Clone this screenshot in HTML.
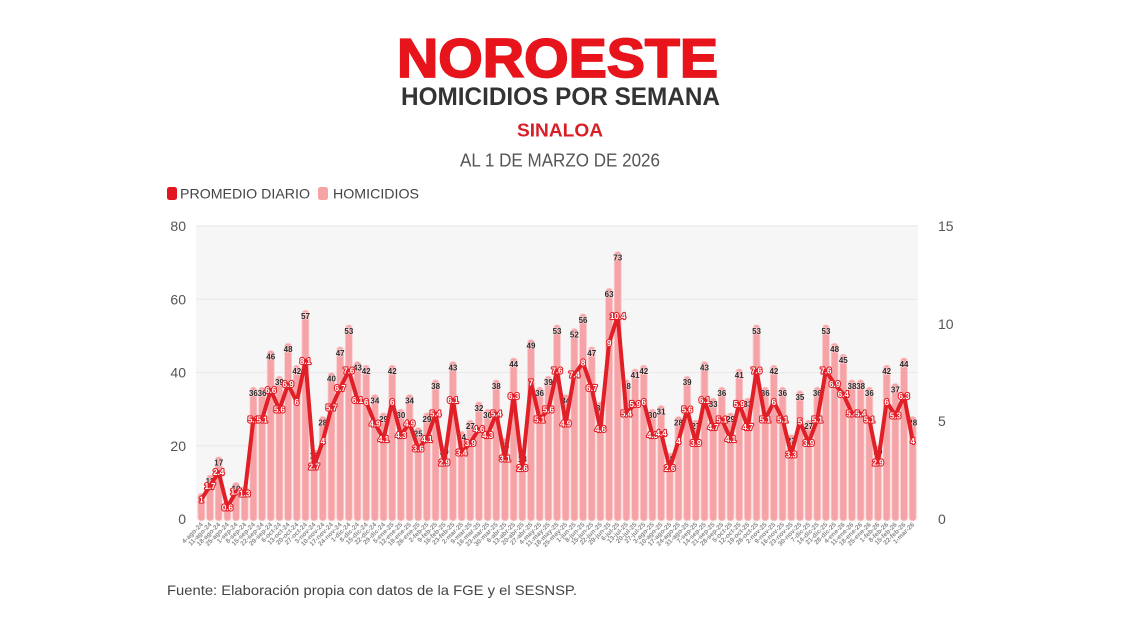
<!DOCTYPE html>
<html><head><meta charset="utf-8"><style>
html,body{margin:0;padding:0;background:#fff;}
svg{display:block;font-family:"Liberation Sans",sans-serif;}
.bars rect{vector-effect:non-scaling-stroke;}
.bl text{font-size:8px;font-weight:bold;fill:#2b2b2b;text-anchor:middle;stroke:rgba(255,255,255,0.5);stroke-width:1.3px;paint-order:stroke;}
.al text{font-size:8px;font-weight:bold;fill:#fff;text-anchor:middle;stroke:#e3222b;stroke-width:2.2px;paint-order:stroke;stroke-linejoin:round;}
.xl text{font-size:6.5px;fill:#8c8c8c;text-anchor:end;font-weight:bold;}
</style></head><body>
<svg width="1122" height="630" viewBox="0 0 1122 630" xmlns="http://www.w3.org/2000/svg">
<rect width="1122" height="630" fill="#fff"/>
<!-- header -->
<text x="397" y="77" font-size="55" font-weight="bold" fill="#e8141c" stroke="#e8141c" stroke-width="1.8" textLength="321" lengthAdjust="spacingAndGlyphs">NOROESTE</text>
<text x="401" y="105" font-size="25" font-weight="bold" fill="#333" textLength="319" lengthAdjust="spacingAndGlyphs">HOMICIDIOS POR SEMANA</text>
<text x="517" y="136.5" font-size="18.5" font-weight="bold" fill="#d91f26" textLength="86" lengthAdjust="spacingAndGlyphs">SINALOA</text>
<text x="460" y="166.5" font-size="18" fill="#555" textLength="200" lengthAdjust="spacingAndGlyphs">AL 1 DE MARZO DE 2026</text>
<!-- legend -->
<rect x="167" y="187" width="10" height="13" rx="2.5" fill="#e3151d"/>
<text x="180" y="198.5" font-size="14" fill="#444" textLength="130" lengthAdjust="spacingAndGlyphs">PROMEDIO DIARIO</text>
<rect x="318" y="187" width="10" height="13" rx="2.5" fill="#f5a3a5"/>
<text x="333" y="198.5" font-size="14" fill="#444" textLength="86" lengthAdjust="spacingAndGlyphs">HOMICIDIOS</text>
<!-- plot bg -->
<rect x="196" y="225" width="722" height="295" fill="#f6f6f6"/>
<g stroke="#e9e9e9" stroke-width="1">
<line x1="196" y1="226" x2="918" y2="226"/>
<line x1="196" y1="299.2" x2="918" y2="299.2"/>
<line x1="196" y1="372.5" x2="918" y2="372.5"/>
<line x1="196" y1="445.7" x2="918" y2="445.7"/>
</g>
<!-- axes labels -->
<g font-size="14" fill="#555" text-anchor="end">
<text x="186" y="231">80</text>
<text x="186" y="304.5">60</text>
<text x="186" y="377.5">40</text>
<text x="186" y="451">20</text>
<text x="186" y="524">0</text>
</g>
<g font-size="14" fill="#555" text-anchor="start">
<text x="938" y="231">15</text>
<text x="938" y="329">10</text>
<text x="938" y="426">5</text>
<text x="938" y="524">0</text>
</g>
<!-- bars -->
<g class="bars" transform="translate(197,519) scale(8.675,-3.6625)" fill="#f5a3a6" stroke="#fbcdce" stroke-width="0.8">
<rect x="0.1" y="-0.5" width="0.8" height="7.5" rx="0.35" ry="0.9"/>
<rect x="1.1" y="-0.5" width="0.8" height="12.5" rx="0.35" ry="0.9"/>
<rect x="2.1" y="-0.5" width="0.8" height="17.5" rx="0.35" ry="0.9"/>
<rect x="3.1" y="-0.5" width="0.8" height="4.5" rx="0.35" ry="0.9"/>
<rect x="4.1" y="-0.5" width="0.8" height="10.5" rx="0.35" ry="0.9"/>
<rect x="5.1" y="-0.5" width="0.8" height="9.5" rx="0.35" ry="0.9"/>
<rect x="6.1" y="-0.5" width="0.8" height="36.5" rx="0.35" ry="0.9"/>
<rect x="7.1" y="-0.5" width="0.8" height="36.5" rx="0.35" ry="0.9"/>
<rect x="8.1" y="-0.5" width="0.8" height="46.5" rx="0.35" ry="0.9"/>
<rect x="9.1" y="-0.5" width="0.8" height="39.5" rx="0.35" ry="0.9"/>
<rect x="10.1" y="-0.5" width="0.8" height="48.5" rx="0.35" ry="0.9"/>
<rect x="11.1" y="-0.5" width="0.8" height="42.5" rx="0.35" ry="0.9"/>
<rect x="12.1" y="-0.5" width="0.8" height="57.5" rx="0.35" ry="0.9"/>
<rect x="13.1" y="-0.5" width="0.8" height="19.5" rx="0.35" ry="0.9"/>
<rect x="14.1" y="-0.5" width="0.8" height="28.5" rx="0.35" ry="0.9"/>
<rect x="15.1" y="-0.5" width="0.8" height="40.5" rx="0.35" ry="0.9"/>
<rect x="16.1" y="-0.5" width="0.8" height="47.5" rx="0.35" ry="0.9"/>
<rect x="17.1" y="-0.5" width="0.8" height="53.5" rx="0.35" ry="0.9"/>
<rect x="18.1" y="-0.5" width="0.8" height="43.5" rx="0.35" ry="0.9"/>
<rect x="19.1" y="-0.5" width="0.8" height="42.5" rx="0.35" ry="0.9"/>
<rect x="20.1" y="-0.5" width="0.8" height="34.5" rx="0.35" ry="0.9"/>
<rect x="21.1" y="-0.5" width="0.8" height="29.5" rx="0.35" ry="0.9"/>
<rect x="22.1" y="-0.5" width="0.8" height="42.5" rx="0.35" ry="0.9"/>
<rect x="23.1" y="-0.5" width="0.8" height="30.5" rx="0.35" ry="0.9"/>
<rect x="24.1" y="-0.5" width="0.8" height="34.5" rx="0.35" ry="0.9"/>
<rect x="25.1" y="-0.5" width="0.8" height="25.5" rx="0.35" ry="0.9"/>
<rect x="26.1" y="-0.5" width="0.8" height="29.5" rx="0.35" ry="0.9"/>
<rect x="27.1" y="-0.5" width="0.8" height="38.5" rx="0.35" ry="0.9"/>
<rect x="28.1" y="-0.5" width="0.8" height="20.5" rx="0.35" ry="0.9"/>
<rect x="29.1" y="-0.5" width="0.8" height="43.5" rx="0.35" ry="0.9"/>
<rect x="30.1" y="-0.5" width="0.8" height="24.5" rx="0.35" ry="0.9"/>
<rect x="31.1" y="-0.5" width="0.8" height="27.5" rx="0.35" ry="0.9"/>
<rect x="32.1" y="-0.5" width="0.8" height="32.5" rx="0.35" ry="0.9"/>
<rect x="33.1" y="-0.5" width="0.8" height="30.5" rx="0.35" ry="0.9"/>
<rect x="34.1" y="-0.5" width="0.8" height="38.5" rx="0.35" ry="0.9"/>
<rect x="35.1" y="-0.5" width="0.8" height="22.5" rx="0.35" ry="0.9"/>
<rect x="36.1" y="-0.5" width="0.8" height="44.5" rx="0.35" ry="0.9"/>
<rect x="37.1" y="-0.5" width="0.8" height="18.5" rx="0.35" ry="0.9"/>
<rect x="38.1" y="-0.5" width="0.8" height="49.5" rx="0.35" ry="0.9"/>
<rect x="39.1" y="-0.5" width="0.8" height="36.5" rx="0.35" ry="0.9"/>
<rect x="40.1" y="-0.5" width="0.8" height="39.5" rx="0.35" ry="0.9"/>
<rect x="41.1" y="-0.5" width="0.8" height="53.5" rx="0.35" ry="0.9"/>
<rect x="42.1" y="-0.5" width="0.8" height="34.5" rx="0.35" ry="0.9"/>
<rect x="43.1" y="-0.5" width="0.8" height="52.5" rx="0.35" ry="0.9"/>
<rect x="44.1" y="-0.5" width="0.8" height="56.5" rx="0.35" ry="0.9"/>
<rect x="45.1" y="-0.5" width="0.8" height="47.5" rx="0.35" ry="0.9"/>
<rect x="46.1" y="-0.5" width="0.8" height="32.5" rx="0.35" ry="0.9"/>
<rect x="47.1" y="-0.5" width="0.8" height="63.5" rx="0.35" ry="0.9"/>
<rect x="48.1" y="-0.5" width="0.8" height="73.5" rx="0.35" ry="0.9"/>
<rect x="49.1" y="-0.5" width="0.8" height="38.5" rx="0.35" ry="0.9"/>
<rect x="50.1" y="-0.5" width="0.8" height="41.5" rx="0.35" ry="0.9"/>
<rect x="51.1" y="-0.5" width="0.8" height="42.5" rx="0.35" ry="0.9"/>
<rect x="52.1" y="-0.5" width="0.8" height="30.5" rx="0.35" ry="0.9"/>
<rect x="53.1" y="-0.5" width="0.8" height="31.5" rx="0.35" ry="0.9"/>
<rect x="54.1" y="-0.5" width="0.8" height="18.5" rx="0.35" ry="0.9"/>
<rect x="55.1" y="-0.5" width="0.8" height="28.5" rx="0.35" ry="0.9"/>
<rect x="56.1" y="-0.5" width="0.8" height="39.5" rx="0.35" ry="0.9"/>
<rect x="57.1" y="-0.5" width="0.8" height="27.5" rx="0.35" ry="0.9"/>
<rect x="58.1" y="-0.5" width="0.8" height="43.5" rx="0.35" ry="0.9"/>
<rect x="59.1" y="-0.5" width="0.8" height="33.5" rx="0.35" ry="0.9"/>
<rect x="60.1" y="-0.5" width="0.8" height="36.5" rx="0.35" ry="0.9"/>
<rect x="61.1" y="-0.5" width="0.8" height="29.5" rx="0.35" ry="0.9"/>
<rect x="62.1" y="-0.5" width="0.8" height="41.5" rx="0.35" ry="0.9"/>
<rect x="63.1" y="-0.5" width="0.8" height="33.5" rx="0.35" ry="0.9"/>
<rect x="64.1" y="-0.5" width="0.8" height="53.5" rx="0.35" ry="0.9"/>
<rect x="65.1" y="-0.5" width="0.8" height="36.5" rx="0.35" ry="0.9"/>
<rect x="66.1" y="-0.5" width="0.8" height="42.5" rx="0.35" ry="0.9"/>
<rect x="67.1" y="-0.5" width="0.8" height="36.5" rx="0.35" ry="0.9"/>
<rect x="68.1" y="-0.5" width="0.8" height="23.5" rx="0.35" ry="0.9"/>
<rect x="69.1" y="-0.5" width="0.8" height="35.5" rx="0.35" ry="0.9"/>
<rect x="70.1" y="-0.5" width="0.8" height="27.5" rx="0.35" ry="0.9"/>
<rect x="71.1" y="-0.5" width="0.8" height="36.5" rx="0.35" ry="0.9"/>
<rect x="72.1" y="-0.5" width="0.8" height="53.5" rx="0.35" ry="0.9"/>
<rect x="73.1" y="-0.5" width="0.8" height="48.5" rx="0.35" ry="0.9"/>
<rect x="74.1" y="-0.5" width="0.8" height="45.5" rx="0.35" ry="0.9"/>
<rect x="75.1" y="-0.5" width="0.8" height="38.5" rx="0.35" ry="0.9"/>
<rect x="76.1" y="-0.5" width="0.8" height="38.5" rx="0.35" ry="0.9"/>
<rect x="77.1" y="-0.5" width="0.8" height="36.5" rx="0.35" ry="0.9"/>
<rect x="78.1" y="-0.5" width="0.8" height="20.5" rx="0.35" ry="0.9"/>
<rect x="79.1" y="-0.5" width="0.8" height="42.5" rx="0.35" ry="0.9"/>
<rect x="80.1" y="-0.5" width="0.8" height="37.5" rx="0.35" ry="0.9"/>
<rect x="81.1" y="-0.5" width="0.8" height="44.5" rx="0.35" ry="0.9"/>
<rect x="82.1" y="-0.5" width="0.8" height="28.5" rx="0.35" ry="0.9"/>
</g>
<!-- bar labels -->
<g class="bl" transform="translate(197,519) scale(8.675,-3.6625)">
<text transform="translate(0.5,7) scale(.11527,-.27304)" y="9">7</text>
<text transform="translate(1.5,12) scale(.11527,-.27304)" y="9">12</text>
<text transform="translate(2.5,17) scale(.11527,-.27304)" y="9">17</text>
<text transform="translate(4.5,10) scale(.11527,-.27304)" y="9">10</text>
<text transform="translate(5.5,9) scale(.11527,-.27304)" y="9">9</text>
<text transform="translate(6.5,36) scale(.11527,-.27304)" y="9">36</text>
<text transform="translate(7.5,36) scale(.11527,-.27304)" y="9">36</text>
<text transform="translate(8.5,46) scale(.11527,-.27304)" y="9">46</text>
<text transform="translate(9.5,39) scale(.11527,-.27304)" y="9">39</text>
<text transform="translate(10.5,48) scale(.11527,-.27304)" y="9">48</text>
<text transform="translate(11.5,42) scale(.11527,-.27304)" y="9">42</text>
<text transform="translate(12.5,57) scale(.11527,-.27304)" y="9">57</text>
<text transform="translate(13.5,19) scale(.11527,-.27304)" y="9">19</text>
<text transform="translate(14.5,28) scale(.11527,-.27304)" y="9">28</text>
<text transform="translate(15.5,40) scale(.11527,-.27304)" y="9">40</text>
<text transform="translate(16.5,47) scale(.11527,-.27304)" y="9">47</text>
<text transform="translate(17.5,53) scale(.11527,-.27304)" y="9">53</text>
<text transform="translate(18.5,43) scale(.11527,-.27304)" y="9">43</text>
<text transform="translate(19.5,42) scale(.11527,-.27304)" y="9">42</text>
<text transform="translate(20.5,34) scale(.11527,-.27304)" y="9">34</text>
<text transform="translate(21.5,29) scale(.11527,-.27304)" y="9">29</text>
<text transform="translate(22.5,42) scale(.11527,-.27304)" y="9">42</text>
<text transform="translate(23.5,30) scale(.11527,-.27304)" y="9">30</text>
<text transform="translate(24.5,34) scale(.11527,-.27304)" y="9">34</text>
<text transform="translate(25.5,25) scale(.11527,-.27304)" y="9">25</text>
<text transform="translate(26.5,29) scale(.11527,-.27304)" y="9">29</text>
<text transform="translate(27.5,38) scale(.11527,-.27304)" y="9">38</text>
<text transform="translate(28.5,20) scale(.11527,-.27304)" y="9">20</text>
<text transform="translate(29.5,43) scale(.11527,-.27304)" y="9">43</text>
<text transform="translate(30.5,24) scale(.11527,-.27304)" y="9">24</text>
<text transform="translate(31.5,27) scale(.11527,-.27304)" y="9">27</text>
<text transform="translate(32.5,32) scale(.11527,-.27304)" y="9">32</text>
<text transform="translate(33.5,30) scale(.11527,-.27304)" y="9">30</text>
<text transform="translate(34.5,38) scale(.11527,-.27304)" y="9">38</text>
<text transform="translate(35.5,22) scale(.11527,-.27304)" y="9">22</text>
<text transform="translate(36.5,44) scale(.11527,-.27304)" y="9">44</text>
<text transform="translate(37.5,18) scale(.11527,-.27304)" y="9">18</text>
<text transform="translate(38.5,49) scale(.11527,-.27304)" y="9">49</text>
<text transform="translate(39.5,36) scale(.11527,-.27304)" y="9">36</text>
<text transform="translate(40.5,39) scale(.11527,-.27304)" y="9">39</text>
<text transform="translate(41.5,53) scale(.11527,-.27304)" y="9">53</text>
<text transform="translate(42.5,34) scale(.11527,-.27304)" y="9">34</text>
<text transform="translate(43.5,52) scale(.11527,-.27304)" y="9">52</text>
<text transform="translate(44.5,56) scale(.11527,-.27304)" y="9">56</text>
<text transform="translate(45.5,47) scale(.11527,-.27304)" y="9">47</text>
<text transform="translate(46.5,32) scale(.11527,-.27304)" y="9">32</text>
<text transform="translate(47.5,63) scale(.11527,-.27304)" y="9">63</text>
<text transform="translate(48.5,73) scale(.11527,-.27304)" y="9">73</text>
<text transform="translate(49.5,38) scale(.11527,-.27304)" y="9">38</text>
<text transform="translate(50.5,41) scale(.11527,-.27304)" y="9">41</text>
<text transform="translate(51.5,42) scale(.11527,-.27304)" y="9">42</text>
<text transform="translate(52.5,30) scale(.11527,-.27304)" y="9">30</text>
<text transform="translate(53.5,31) scale(.11527,-.27304)" y="9">31</text>
<text transform="translate(54.5,18) scale(.11527,-.27304)" y="9">18</text>
<text transform="translate(55.5,28) scale(.11527,-.27304)" y="9">28</text>
<text transform="translate(56.5,39) scale(.11527,-.27304)" y="9">39</text>
<text transform="translate(57.5,27) scale(.11527,-.27304)" y="9">27</text>
<text transform="translate(58.5,43) scale(.11527,-.27304)" y="9">43</text>
<text transform="translate(59.5,33) scale(.11527,-.27304)" y="9">33</text>
<text transform="translate(60.5,36) scale(.11527,-.27304)" y="9">36</text>
<text transform="translate(61.5,29) scale(.11527,-.27304)" y="9">29</text>
<text transform="translate(62.5,41) scale(.11527,-.27304)" y="9">41</text>
<text transform="translate(63.5,33) scale(.11527,-.27304)" y="9">33</text>
<text transform="translate(64.5,53) scale(.11527,-.27304)" y="9">53</text>
<text transform="translate(65.5,36) scale(.11527,-.27304)" y="9">36</text>
<text transform="translate(66.5,42) scale(.11527,-.27304)" y="9">42</text>
<text transform="translate(67.5,36) scale(.11527,-.27304)" y="9">36</text>
<text transform="translate(68.5,23) scale(.11527,-.27304)" y="9">23</text>
<text transform="translate(69.5,35) scale(.11527,-.27304)" y="9">35</text>
<text transform="translate(70.5,27) scale(.11527,-.27304)" y="9">27</text>
<text transform="translate(71.5,36) scale(.11527,-.27304)" y="9">36</text>
<text transform="translate(72.5,53) scale(.11527,-.27304)" y="9">53</text>
<text transform="translate(73.5,48) scale(.11527,-.27304)" y="9">48</text>
<text transform="translate(74.5,45) scale(.11527,-.27304)" y="9">45</text>
<text transform="translate(75.5,38) scale(.11527,-.27304)" y="9">38</text>
<text transform="translate(76.5,38) scale(.11527,-.27304)" y="9">38</text>
<text transform="translate(77.5,36) scale(.11527,-.27304)" y="9">36</text>
<text transform="translate(78.5,20) scale(.11527,-.27304)" y="9">20</text>
<text transform="translate(79.5,42) scale(.11527,-.27304)" y="9">42</text>
<text transform="translate(80.5,37) scale(.11527,-.27304)" y="9">37</text>
<text transform="translate(81.5,44) scale(.11527,-.27304)" y="9">44</text>
<text transform="translate(82.5,28) scale(.11527,-.27304)" y="9">28</text>
</g>
<!-- line -->
<g transform="translate(197,519) scale(8.675,-19.533)">
<polyline fill="none" stroke="#e01f26" stroke-width="4" stroke-linejoin="round" stroke-linecap="round" vector-effect="non-scaling-stroke" points="0.5,1 1.5,1.7 2.5,2.4 3.5,0.6 4.5,1.4 5.5,1.3 6.5,5.1 7.5,5.1 8.5,6.6 9.5,5.6 10.5,6.9 11.5,6 12.5,8.1 13.5,2.7 14.5,4 15.5,5.7 16.5,6.7 17.5,7.6 18.5,6.1 19.5,6 20.5,4.9 21.5,4.1 22.5,6 23.5,4.3 24.5,4.9 25.5,3.6 26.5,4.1 27.5,5.4 28.5,2.9 29.5,6.1 30.5,3.4 31.5,3.9 32.5,4.6 33.5,4.3 34.5,5.4 35.5,3.1 36.5,6.3 37.5,2.6 38.5,7 39.5,5.1 40.5,5.6 41.5,7.6 42.5,4.9 43.5,7.4 44.5,8 45.5,6.7 46.5,4.6 47.5,9 48.5,10.4 49.5,5.4 50.5,5.9 51.5,6 52.5,4.3 53.5,4.4 54.5,2.6 55.5,4 56.5,5.6 57.5,3.9 58.5,6.1 59.5,4.7 60.5,5.1 61.5,4.1 62.5,5.9 63.5,4.7 64.5,7.6 65.5,5.1 66.5,6 67.5,5.1 68.5,3.3 69.5,5 70.5,3.9 71.5,5.1 72.5,7.6 73.5,6.9 74.5,6.4 75.5,5.4 76.5,5.4 77.5,5.1 78.5,2.9 79.5,6 80.5,5.3 81.5,6.3 82.5,4"/>
</g>
<!-- avg labels -->
<g class="al" transform="translate(197,519) scale(8.675,-19.533)">
<text transform="translate(0.5,1) scale(.11527,-.051196)" y="3">1</text>
<text transform="translate(1.5,1.7) scale(.11527,-.051196)" y="3">1.7</text>
<text transform="translate(2.5,2.4) scale(.11527,-.051196)" y="3">2.4</text>
<text transform="translate(3.5,0.6) scale(.11527,-.051196)" y="3">0.6</text>
<text transform="translate(4.5,1.4) scale(.11527,-.051196)" y="3">1.4</text>
<text transform="translate(5.5,1.3) scale(.11527,-.051196)" y="3">1.3</text>
<text transform="translate(6.5,5.1) scale(.11527,-.051196)" y="3">5.1</text>
<text transform="translate(7.5,5.1) scale(.11527,-.051196)" y="3">5.1</text>
<text transform="translate(8.5,6.6) scale(.11527,-.051196)" y="3">6.6</text>
<text transform="translate(9.5,5.6) scale(.11527,-.051196)" y="3">5.6</text>
<text transform="translate(10.5,6.9) scale(.11527,-.051196)" y="3">6.9</text>
<text transform="translate(11.5,6) scale(.11527,-.051196)" y="3">6</text>
<text transform="translate(12.5,8.1) scale(.11527,-.051196)" y="3">8.1</text>
<text transform="translate(13.5,2.7) scale(.11527,-.051196)" y="3">2.7</text>
<text transform="translate(14.5,4) scale(.11527,-.051196)" y="3">4</text>
<text transform="translate(15.5,5.7) scale(.11527,-.051196)" y="3">5.7</text>
<text transform="translate(16.5,6.7) scale(.11527,-.051196)" y="3">6.7</text>
<text transform="translate(17.5,7.6) scale(.11527,-.051196)" y="3">7.6</text>
<text transform="translate(18.5,6.1) scale(.11527,-.051196)" y="3">6.1</text>
<text transform="translate(19.5,6) scale(.11527,-.051196)" y="3">6</text>
<text transform="translate(20.5,4.9) scale(.11527,-.051196)" y="3">4.9</text>
<text transform="translate(21.5,4.1) scale(.11527,-.051196)" y="3">4.1</text>
<text transform="translate(22.5,6) scale(.11527,-.051196)" y="3">6</text>
<text transform="translate(23.5,4.3) scale(.11527,-.051196)" y="3">4.3</text>
<text transform="translate(24.5,4.9) scale(.11527,-.051196)" y="3">4.9</text>
<text transform="translate(25.5,3.6) scale(.11527,-.051196)" y="3">3.6</text>
<text transform="translate(26.5,4.1) scale(.11527,-.051196)" y="3">4.1</text>
<text transform="translate(27.5,5.4) scale(.11527,-.051196)" y="3">5.4</text>
<text transform="translate(28.5,2.9) scale(.11527,-.051196)" y="3">2.9</text>
<text transform="translate(29.5,6.1) scale(.11527,-.051196)" y="3">6.1</text>
<text transform="translate(30.5,3.4) scale(.11527,-.051196)" y="3">3.4</text>
<text transform="translate(31.5,3.9) scale(.11527,-.051196)" y="3">3.9</text>
<text transform="translate(32.5,4.6) scale(.11527,-.051196)" y="3">4.6</text>
<text transform="translate(33.5,4.3) scale(.11527,-.051196)" y="3">4.3</text>
<text transform="translate(34.5,5.4) scale(.11527,-.051196)" y="3">5.4</text>
<text transform="translate(35.5,3.1) scale(.11527,-.051196)" y="3">3.1</text>
<text transform="translate(36.5,6.3) scale(.11527,-.051196)" y="3">6.3</text>
<text transform="translate(37.5,2.6) scale(.11527,-.051196)" y="3">2.6</text>
<text transform="translate(38.5,7) scale(.11527,-.051196)" y="3">7</text>
<text transform="translate(39.5,5.1) scale(.11527,-.051196)" y="3">5.1</text>
<text transform="translate(40.5,5.6) scale(.11527,-.051196)" y="3">5.6</text>
<text transform="translate(41.5,7.6) scale(.11527,-.051196)" y="3">7.6</text>
<text transform="translate(42.5,4.9) scale(.11527,-.051196)" y="3">4.9</text>
<text transform="translate(43.5,7.4) scale(.11527,-.051196)" y="3">7.4</text>
<text transform="translate(44.5,8) scale(.11527,-.051196)" y="3">8</text>
<text transform="translate(45.5,6.7) scale(.11527,-.051196)" y="3">6.7</text>
<text transform="translate(46.5,4.6) scale(.11527,-.051196)" y="3">4.6</text>
<text transform="translate(47.5,9) scale(.11527,-.051196)" y="3">9</text>
<text transform="translate(48.5,10.4) scale(.11527,-.051196)" y="3">10.4</text>
<text transform="translate(49.5,5.4) scale(.11527,-.051196)" y="3">5.4</text>
<text transform="translate(50.5,5.9) scale(.11527,-.051196)" y="3">5.9</text>
<text transform="translate(51.5,6) scale(.11527,-.051196)" y="3">6</text>
<text transform="translate(52.5,4.3) scale(.11527,-.051196)" y="3">4.3</text>
<text transform="translate(53.5,4.4) scale(.11527,-.051196)" y="3">4.4</text>
<text transform="translate(54.5,2.6) scale(.11527,-.051196)" y="3">2.6</text>
<text transform="translate(55.5,4) scale(.11527,-.051196)" y="3">4</text>
<text transform="translate(56.5,5.6) scale(.11527,-.051196)" y="3">5.6</text>
<text transform="translate(57.5,3.9) scale(.11527,-.051196)" y="3">3.9</text>
<text transform="translate(58.5,6.1) scale(.11527,-.051196)" y="3">6.1</text>
<text transform="translate(59.5,4.7) scale(.11527,-.051196)" y="3">4.7</text>
<text transform="translate(60.5,5.1) scale(.11527,-.051196)" y="3">5.1</text>
<text transform="translate(61.5,4.1) scale(.11527,-.051196)" y="3">4.1</text>
<text transform="translate(62.5,5.9) scale(.11527,-.051196)" y="3">5.9</text>
<text transform="translate(63.5,4.7) scale(.11527,-.051196)" y="3">4.7</text>
<text transform="translate(64.5,7.6) scale(.11527,-.051196)" y="3">7.6</text>
<text transform="translate(65.5,5.1) scale(.11527,-.051196)" y="3">5.1</text>
<text transform="translate(66.5,6) scale(.11527,-.051196)" y="3">6</text>
<text transform="translate(67.5,5.1) scale(.11527,-.051196)" y="3">5.1</text>
<text transform="translate(68.5,3.3) scale(.11527,-.051196)" y="3">3.3</text>
<text transform="translate(69.5,5) scale(.11527,-.051196)" y="3">5</text>
<text transform="translate(70.5,3.9) scale(.11527,-.051196)" y="3">3.9</text>
<text transform="translate(71.5,5.1) scale(.11527,-.051196)" y="3">5.1</text>
<text transform="translate(72.5,7.6) scale(.11527,-.051196)" y="3">7.6</text>
<text transform="translate(73.5,6.9) scale(.11527,-.051196)" y="3">6.9</text>
<text transform="translate(74.5,6.4) scale(.11527,-.051196)" y="3">6.4</text>
<text transform="translate(75.5,5.4) scale(.11527,-.051196)" y="3">5.4</text>
<text transform="translate(76.5,5.4) scale(.11527,-.051196)" y="3">5.4</text>
<text transform="translate(77.5,5.1) scale(.11527,-.051196)" y="3">5.1</text>
<text transform="translate(78.5,2.9) scale(.11527,-.051196)" y="3">2.9</text>
<text transform="translate(79.5,6) scale(.11527,-.051196)" y="3">6</text>
<text transform="translate(80.5,5.3) scale(.11527,-.051196)" y="3">5.3</text>
<text transform="translate(81.5,6.3) scale(.11527,-.051196)" y="3">6.3</text>
<text transform="translate(82.5,4) scale(.11527,-.051196)" y="3">4</text>
</g>
<!-- x labels -->
<g class="xl" transform="translate(199,525) scale(8.675,1)">
<text transform="translate(0.5,0) scale(.11527,1) rotate(-45)">4-ago-24</text>
<text transform="translate(1.5,0) scale(.11527,1) rotate(-45)">11-ago-24</text>
<text transform="translate(2.5,0) scale(.11527,1) rotate(-45)">18-ago-24</text>
<text transform="translate(3.5,0) scale(.11527,1) rotate(-45)">25-ago-24</text>
<text transform="translate(4.5,0) scale(.11527,1) rotate(-45)">1-sep-24</text>
<text transform="translate(5.5,0) scale(.11527,1) rotate(-45)">8-sep-24</text>
<text transform="translate(6.5,0) scale(.11527,1) rotate(-45)">15-sep-24</text>
<text transform="translate(7.5,0) scale(.11527,1) rotate(-45)">22-sep-24</text>
<text transform="translate(8.5,0) scale(.11527,1) rotate(-45)">29-sep-24</text>
<text transform="translate(9.5,0) scale(.11527,1) rotate(-45)">6-oct-24</text>
<text transform="translate(10.5,0) scale(.11527,1) rotate(-45)">13-oct-24</text>
<text transform="translate(11.5,0) scale(.11527,1) rotate(-45)">20-oct-24</text>
<text transform="translate(12.5,0) scale(.11527,1) rotate(-45)">27-oct-24</text>
<text transform="translate(13.5,0) scale(.11527,1) rotate(-45)">3-nov-24</text>
<text transform="translate(14.5,0) scale(.11527,1) rotate(-45)">10-nov-24</text>
<text transform="translate(15.5,0) scale(.11527,1) rotate(-45)">17-nov-24</text>
<text transform="translate(16.5,0) scale(.11527,1) rotate(-45)">24-nov-24</text>
<text transform="translate(17.5,0) scale(.11527,1) rotate(-45)">1-dic-24</text>
<text transform="translate(18.5,0) scale(.11527,1) rotate(-45)">8-dic-24</text>
<text transform="translate(19.5,0) scale(.11527,1) rotate(-45)">15-dic-24</text>
<text transform="translate(20.5,0) scale(.11527,1) rotate(-45)">22-dic-24</text>
<text transform="translate(21.5,0) scale(.11527,1) rotate(-45)">29-dic-24</text>
<text transform="translate(22.5,0) scale(.11527,1) rotate(-45)">5-ene-25</text>
<text transform="translate(23.5,0) scale(.11527,1) rotate(-45)">12-ene-25</text>
<text transform="translate(24.5,0) scale(.11527,1) rotate(-45)">19-ene-25</text>
<text transform="translate(25.5,0) scale(.11527,1) rotate(-45)">26-ene-25</text>
<text transform="translate(26.5,0) scale(.11527,1) rotate(-45)">2-feb-25</text>
<text transform="translate(27.5,0) scale(.11527,1) rotate(-45)">9-feb-25</text>
<text transform="translate(28.5,0) scale(.11527,1) rotate(-45)">16-feb-25</text>
<text transform="translate(29.5,0) scale(.11527,1) rotate(-45)">23-feb-25</text>
<text transform="translate(30.5,0) scale(.11527,1) rotate(-45)">2-mar-25</text>
<text transform="translate(31.5,0) scale(.11527,1) rotate(-45)">9-mar-25</text>
<text transform="translate(32.5,0) scale(.11527,1) rotate(-45)">16-mar-25</text>
<text transform="translate(33.5,0) scale(.11527,1) rotate(-45)">23-mar-25</text>
<text transform="translate(34.5,0) scale(.11527,1) rotate(-45)">30-mar-25</text>
<text transform="translate(35.5,0) scale(.11527,1) rotate(-45)">6-abr-25</text>
<text transform="translate(36.5,0) scale(.11527,1) rotate(-45)">13-abr-25</text>
<text transform="translate(37.5,0) scale(.11527,1) rotate(-45)">20-abr-25</text>
<text transform="translate(38.5,0) scale(.11527,1) rotate(-45)">27-abr-25</text>
<text transform="translate(39.5,0) scale(.11527,1) rotate(-45)">4-may-25</text>
<text transform="translate(40.5,0) scale(.11527,1) rotate(-45)">11-may-25</text>
<text transform="translate(41.5,0) scale(.11527,1) rotate(-45)">18-may-25</text>
<text transform="translate(42.5,0) scale(.11527,1) rotate(-45)">25-may-25</text>
<text transform="translate(43.5,0) scale(.11527,1) rotate(-45)">1-jun-25</text>
<text transform="translate(44.5,0) scale(.11527,1) rotate(-45)">8-jun-25</text>
<text transform="translate(45.5,0) scale(.11527,1) rotate(-45)">15-jun-25</text>
<text transform="translate(46.5,0) scale(.11527,1) rotate(-45)">22-jun-25</text>
<text transform="translate(47.5,0) scale(.11527,1) rotate(-45)">29-jun-25</text>
<text transform="translate(48.5,0) scale(.11527,1) rotate(-45)">6-jul-25</text>
<text transform="translate(49.5,0) scale(.11527,1) rotate(-45)">13-jul-25</text>
<text transform="translate(50.5,0) scale(.11527,1) rotate(-45)">20-jul-25</text>
<text transform="translate(51.5,0) scale(.11527,1) rotate(-45)">27-jul-25</text>
<text transform="translate(52.5,0) scale(.11527,1) rotate(-45)">3-ago-25</text>
<text transform="translate(53.5,0) scale(.11527,1) rotate(-45)">10-ago-25</text>
<text transform="translate(54.5,0) scale(.11527,1) rotate(-45)">17-ago-25</text>
<text transform="translate(55.5,0) scale(.11527,1) rotate(-45)">24-ago-25</text>
<text transform="translate(56.5,0) scale(.11527,1) rotate(-45)">31-ago-25</text>
<text transform="translate(57.5,0) scale(.11527,1) rotate(-45)">7-sep-25</text>
<text transform="translate(58.5,0) scale(.11527,1) rotate(-45)">14-sep-25</text>
<text transform="translate(59.5,0) scale(.11527,1) rotate(-45)">21-sep-25</text>
<text transform="translate(60.5,0) scale(.11527,1) rotate(-45)">28-sep-25</text>
<text transform="translate(61.5,0) scale(.11527,1) rotate(-45)">5-oct-25</text>
<text transform="translate(62.5,0) scale(.11527,1) rotate(-45)">12-oct-25</text>
<text transform="translate(63.5,0) scale(.11527,1) rotate(-45)">19-oct-25</text>
<text transform="translate(64.5,0) scale(.11527,1) rotate(-45)">26-oct-25</text>
<text transform="translate(65.5,0) scale(.11527,1) rotate(-45)">2-nov-25</text>
<text transform="translate(66.5,0) scale(.11527,1) rotate(-45)">9-nov-25</text>
<text transform="translate(67.5,0) scale(.11527,1) rotate(-45)">16-nov-25</text>
<text transform="translate(68.5,0) scale(.11527,1) rotate(-45)">23-nov-25</text>
<text transform="translate(69.5,0) scale(.11527,1) rotate(-45)">30-nov-25</text>
<text transform="translate(70.5,0) scale(.11527,1) rotate(-45)">7-dic-25</text>
<text transform="translate(71.5,0) scale(.11527,1) rotate(-45)">14-dic-25</text>
<text transform="translate(72.5,0) scale(.11527,1) rotate(-45)">21-dic-25</text>
<text transform="translate(73.5,0) scale(.11527,1) rotate(-45)">28-dic-25</text>
<text transform="translate(74.5,0) scale(.11527,1) rotate(-45)">4-ene-26</text>
<text transform="translate(75.5,0) scale(.11527,1) rotate(-45)">11-ene-26</text>
<text transform="translate(76.5,0) scale(.11527,1) rotate(-45)">18-ene-26</text>
<text transform="translate(77.5,0) scale(.11527,1) rotate(-45)">25-ene-26</text>
<text transform="translate(78.5,0) scale(.11527,1) rotate(-45)">1-feb-26</text>
<text transform="translate(79.5,0) scale(.11527,1) rotate(-45)">8-feb-26</text>
<text transform="translate(80.5,0) scale(.11527,1) rotate(-45)">15-feb-26</text>
<text transform="translate(81.5,0) scale(.11527,1) rotate(-45)">22-feb-26</text>
<text transform="translate(82.5,0) scale(.11527,1) rotate(-45)">1-mar-26</text>
</g>
<!-- source -->
<text x="167" y="595" font-size="14" fill="#444" textLength="410" lengthAdjust="spacingAndGlyphs">Fuente: Elaboración propia con datos de la FGE y el SESNSP.</text>
</svg>
</body></html>
